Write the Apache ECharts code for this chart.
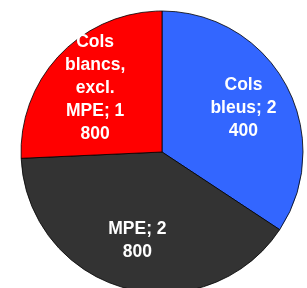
<!DOCTYPE html>
<html>
<head>
<meta charset="utf-8">
<style>html,body{margin:0;padding:0;background:#fff;}#c{width:307px;height:288px;}</style>
<script src="https://cdn.jsdelivr.net/npm/echarts@6/dist/echarts.min.js"></script>
</head>
<body>
<div id="c"></div>
<script>
var categories = ["Cols bleus", "MPE", "Cols blancs, excl. MPE"];
var values = [2400, 2800, 1800];
var labelTexts = ["Cols\nbleus; 2\n400", "MPE; 2\n800", "Cols\nblancs,\nexcl.\nMPE; 1\n800"];
var colors = ["#3366FF", "#333333", "#FF0000"];

var chart = echarts.init(document.getElementById('c'), null, {renderer: 'canvas'});
var sliceData = categories.map(function (n, i) {
  return {name: n, value: values[i], itemStyle: {color: colors[i]}};
});
var labelData = categories.map(function (n, i) {
  return {name: n, value: values[i], label: {formatter: labelTexts[i]}};
});
chart.setOption({
  animation: false,
  series: [
    {
      type: 'pie',
      center: [162, 152],
      radius: [0, 141],
      startAngle: 90,
      clockwise: true,
      silent: true,
      itemStyle: {borderColor: '#000', borderWidth: 0.8},
      label: {show: false},
      labelLine: {show: false},
      emphasis: {disabled: true},
      data: sliceData
    },
    {
      type: 'pie',
      center: [162, 152],
      radius: [38, 141],
      startAngle: 90,
      clockwise: true,
      silent: true,
      itemStyle: {color: 'rgba(0,0,0,0)', borderWidth: 0},
      label: {
        show: true,
        position: 'inside',
        color: '#fff',
        fontFamily: 'Liberation Sans, Arial, sans-serif',
        fontWeight: 'bold',
        fontSize: 17.5,
        lineHeight: 23,
        align: 'center'
      },
      labelLine: {show: false},
      emphasis: {disabled: true},
      data: labelData
    }
  ]
});
</script>
</body>
</html>
